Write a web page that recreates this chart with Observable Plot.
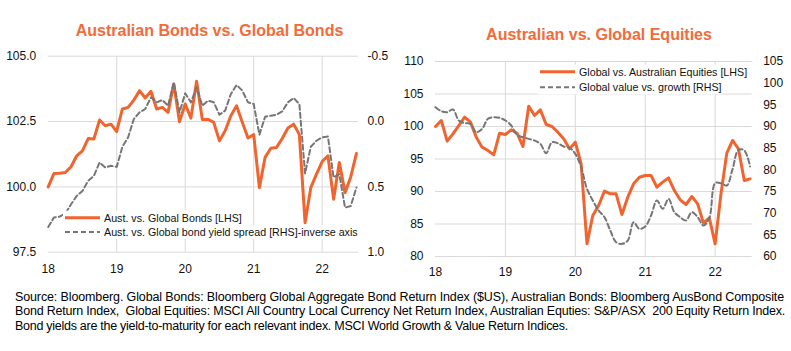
<!DOCTYPE html>
<html>
<head>
<meta charset="utf-8">
<script src="https://cdn.jsdelivr.net/npm/d3@7"></script>
<script src="https://cdn.jsdelivr.net/npm/@observablehq/plot@0.6"></script>
<style>
  html, body { margin: 0; padding: 0; background: #fff; }
  #page { position: relative; width: 791px; height: 351px; overflow: hidden; background: #fff; font-family: "Liberation Sans", Arial, sans-serif; }
  #page > svg, #page > figure { position: absolute; margin: 0; }
  .cap { position: absolute; left: 15px; font-size: 12.5px; line-height: 14.3px; white-space: pre; color: #000; display: inline-block; }
</style>
</head>
<body>
<div id="page"></div>
<script>
// ---------- DATA ----------
// monthly observations, Jan 2018 .. Jul 2022
const months = d3.range(55).map(i => 2018 + i / 12);

// Left chart: Australian vs Global Bonds [LHS]
const ausVsGlobalBonds = [
  100.0,100.51,100.52,100.55,100.77,101.19,101.38,101.85,101.83,102.56,
  102.34,102.4,102.12,102.98,103.04,103.32,103.68,103.4,103.66,102.98,
  103.04,102.85,103.94,102.49,103.17,102.63,104.04,102.58,102.58,102.47,
  101.76,102.15,102.72,103.1,102.47,101.87,102.0,99.97,101.13,101.48,
  101.51,101.85,102.25,102.4,102.0,98.63,99.97,100.49,100.97,101.19,
  99.53,100.93,99.78,100.38,101.28
];
// Left chart: Aust. vs Global bond yield spread [RHS, inverse]
const yieldSpread = [
  0.807,0.735,0.728,0.705,0.633,0.569,0.531,0.454,0.416,0.313,
  0.352,0.339,0.347,0.193,0.121,-0.019,-0.07,-0.096,-0.185,-0.147,
  -0.165,-0.121,-0.3,-0.07,-0.216,-0.147,-0.262,-0.121,-0.16,-0.147,
  -0.052,-0.083,-0.211,-0.28,-0.237,-0.147,-0.134,0.101,-0.037,-0.045,
  -0.052,-0.078,-0.147,-0.18,-0.134,0.398,0.193,0.147,0.121,0.114,
  0.428,0.403,0.659,0.646,0.505
];
// Right chart: Global vs Australian Equities [LHS]
const globalVsAusEquities = [
  100.0,100.92,97.74,98.87,100.15,101.44,100.67,98.36,96.82,96.31,
  95.64,98.97,98.77,99.49,98.97,96.92,103.13,101.69,102.56,100.31,
  100.0,99.13,98.1,96.56,97.59,94.26,81.95,86.31,87.85,90.05,
  89.64,89.64,86.46,89.13,91.18,92.2,92.46,92.46,90.67,91.44,
  92.1,90.15,88.72,88.0,89.23,88.1,85.13,85.95,81.95,89.64,
  95.9,97.85,96.56,91.69,91.95
];
// Right chart: Global value vs growth [RHS]
const valueVsGrowth = [
  94.46,93.54,93.31,93.92,91.38,90.77,90.62,88.69,89.46,91.77,
  92.15,92.0,91.38,90.23,88.08,87.54,87.15,86.77,86.0,83.85,
  86.38,86.15,85.38,85.08,83.69,80.62,75.62,72.92,70.62,69.08,
  66.0,63.31,62.92,63.69,67.92,66.38,66.92,69.46,72.92,71.0,
  73.31,70.23,69.08,68.31,70.23,69.08,67.15,68.92,76.92,76.92,
  76.38,80.23,84.62,84.46,80.77
];

// Ticks / labels
const yearTicks = [2018, 2019, 2020, 2021, 2022];
const gridYears = [2019, 2020, 2021, 2022];
const leftLhsTicks = [97.5, 100, 102.5, 105];
const leftRhsTicks = [1.0, 0.5, 0.0, -0.5];
const rightLhsTicks = [80, 85, 90, 95, 100, 105, 110];
const rightRhsTicks = [60, 65, 70, 75, 80, 85, 90, 95, 100, 105];

const titleLeft = "Australian Bonds vs. Global Bonds";
const titleRight = "Australian vs. Global Equities";
const legendLeft = ["Aust. vs. Global Bonds [LHS]", "Aust. vs. Global bond yield spread [RHS]-inverse axis"];
const legendRight = ["Global vs. Australian Equities [LHS]", "Global value vs. growth [RHS]"];
const captionLines = [
  "Source: Bloomberg. Global Bonds: Bloomberg Global Aggregate Bond Return Index ($US), Australian Bonds: Bloomberg AusBond Composite",
  "Bond Return Index,  Global Equities: MSCI All Country Local Currency Net Return Index, Australian Equties: S&P/ASX  200 Equity Return Index.",
  "Bond yields are the yield-to-maturity for each relevant index. MSCI World Growth & Value Return Indices."
];

// ---------- STYLE ----------
const ORANGE = "#F0652F";
const GRAY = "#767676";
const GRID = "#d9d9d9";
const TITLE = "#F26B3A";
const FONT = "'Liberation Sans', Arial, sans-serif";

const page = document.getElementById("page");
const fmt1 = v => { const r = Math.round(v * 10) / 10; return (r === 0 ? 0 : r).toFixed(1); };
const fmt0 = v => String(Math.round(v));

// ---------- LEFT CHART ----------
const leftDomain = [97.5, 105];
const leftRhs = d3.scaleLinear().domain([1.0, -0.5]).range(leftDomain);
const leftRows = months.map((m, i) => ({x: m, a: ausVsGlobalBonds[i], b: leftRhs(yieldSpread[i])}));

const left = Plot.plot({
  width: 395, height: 280,
  marginLeft: 47.7, marginRight: 37, marginTop: 55.7, marginBottom: 28.3,
  x: {domain: [2018, 2022.53]},
  y: {domain: leftDomain},
  style: {fontFamily: FONT, fontSize: "12px", color: "#111", background: "transparent", overflow: "visible"},
  marks: [
    Plot.gridY(leftLhsTicks, {stroke: GRID, strokeOpacity: 1, strokeWidth: 1}),
    Plot.gridX(gridYears, {stroke: GRID, strokeOpacity: 1, strokeWidth: 1}),
    Plot.axisY(leftLhsTicks, {anchor: "left", tickSize: 0, tickPadding: 12, tickFormat: fmt1, label: null}),
    Plot.axisY(leftRhsTicks.map(leftRhs), {anchor: "right", tickSize: 0, tickPadding: 9, tickFormat: d => fmt1(leftRhs.invert(d)), label: null}),
    Plot.axisX(yearTicks, {tickSize: 0, tickPadding: 12, tickFormat: d => String(d).slice(2), label: null}),
    Plot.line(leftRows, {x: "x", y: "a", stroke: ORANGE, strokeWidth: 3, strokeLinejoin: "round"}),
    Plot.line(leftRows, {x: "x", y: "b", stroke: GRAY, strokeWidth: 2, strokeDasharray: "5,3"})
  ]
});
left.style.left = "0px"; left.style.top = "0px";
page.appendChild(left);

// ---------- RIGHT CHART ----------
const rightDomain = [80, 110];
const rightRhs = d3.scaleLinear().domain([60, 105]).range(rightDomain);
const rightRows = months.map((m, i) => ({x: m, a: globalVsAusEquities[i], b: rightRhs(valueVsGrowth[i])}));

const right = Plot.plot({
  width: 401, height: 280,
  marginLeft: 45, marginRight: 39.3, marginTop: 61, marginBottom: 24,
  x: {domain: [2018, 2022.53]},
  y: {domain: rightDomain},
  style: {fontFamily: FONT, fontSize: "12px", color: "#111", background: "transparent", overflow: "visible"},
  marks: [
    Plot.gridY(rightLhsTicks, {stroke: GRID, strokeOpacity: 1, strokeWidth: 1}),
    Plot.gridX(gridYears, {stroke: GRID, strokeOpacity: 1, strokeWidth: 1}),
    Plot.axisY(rightLhsTicks, {anchor: "left", tickSize: 0, tickPadding: 12, tickFormat: fmt0, label: null}),
    Plot.axisY(rightRhsTicks.map(rightRhs), {anchor: "right", tickSize: 0, tickPadding: 11, tickFormat: d => fmt0(rightRhs.invert(d)), label: null}),
    Plot.axisX(yearTicks, {tickSize: 0, tickPadding: 11.4, tickFormat: d => String(d).slice(2), label: null}),
    Plot.line(rightRows, {x: "x", y: "a", stroke: ORANGE, strokeWidth: 3, strokeLinejoin: "round"}),
    Plot.line(rightRows, {x: "x", y: "b", stroke: GRAY, strokeWidth: 2, strokeDasharray: "5,3", curve: "catmull-rom"})
  ]
});
right.style.left = "390px"; right.style.top = "0px";
page.appendChild(right);

// ---------- OVERLAY: titles, legends ----------
const ov = d3.select(page).append("svg")
  .attr("width", 791).attr("height", 280)
  .style("left", "0px").style("top", "0px")
  .style("font-family", FONT);

ov.append("text").attr("x", 209.5).attr("y", 36).attr("text-anchor", "middle")
  .attr("font-size", 16).attr("font-weight", "bold").attr("fill", TITLE).text(titleLeft);
ov.append("text").attr("x", 599).attr("y", 40.3).attr("text-anchor", "middle")
  .attr("font-size", 16).attr("font-weight", "bold").attr("fill", TITLE).text(titleRight);

function legend(x0, rows, texts, widths) {
  texts.forEach((t, i) => {
    const cy = rows[i];
    ov.append("rect").attr("x", x0 - 2).attr("y", cy - 7).attr("width", widths[i]).attr("height", 14).attr("fill", "#fff");
    ov.append("line").attr("x1", x0).attr("x2", x0 + 35).attr("y1", cy).attr("y2", cy)
      .attr("stroke", i === 0 ? ORANGE : GRAY).attr("stroke-width", i === 0 ? 3 : 2)
      .attr("stroke-dasharray", i === 0 ? null : "5,3");
    ov.append("text").attr("x", x0 + 39).attr("y", cy + 3.8).attr("font-size", 10.7).attr("fill", "#111").text(t);
  });
}
legend(65, [217.7, 232], legendLeft, [180, 296]);
legend(540, [71.7, 87.3], legendRight, [210, 185]);

// ---------- CAPTION (HTML, condensed by letter-spacing to fit) ----------
const capW = [769, 770, 553];
captionLines.forEach((t, i) => {
  const div = document.createElement("div");
  div.className = "cap";
  div.style.top = (290 + i * 14.3) + "px";
  div.textContent = t;
  page.appendChild(div);
  const w = div.getBoundingClientRect().width;
  div.style.letterSpacing = ((capW[i] - w) / t.length) + "px";
});
</script>
</body>
</html>
